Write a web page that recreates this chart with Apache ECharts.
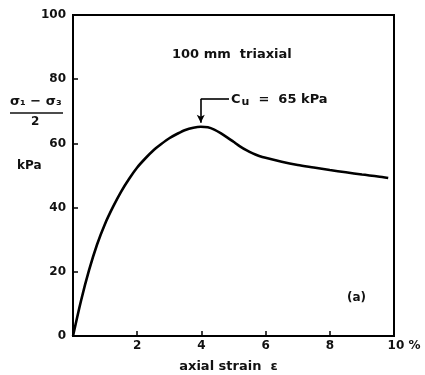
<!DOCTYPE html>
<html>
<head>
<meta charset="utf-8">
<script src="https://cdn.jsdelivr.net/npm/echarts@6/dist/echarts.min.js"></script>
<style>html,body{margin:0;padding:0;background:#fff}#c{width:425px;height:375px}</style>
</head>
<body>
<div id="c"></div>
<script>
const strain = [0, 0.25, 0.5, 0.75, 1.0, 1.25, 1.5, 1.75, 2.0, 2.25, 2.5, 2.75, 3.0, 3.25, 3.5, 3.75, 3.98, 4.2, 4.4, 4.6, 4.8, 5.0, 5.2, 5.4, 5.6, 5.8, 6.0, 6.5, 7.0, 7.5, 8.0, 8.5, 9.0, 9.5, 9.82];
const stress = [0, 11, 20.5, 28.5, 35, 40.3, 45, 49, 52.5, 55.3, 57.8, 59.8, 61.6, 63.0, 64.2, 64.9, 65.2, 65.0, 64.3, 63.2, 61.9, 60.5, 59.1, 57.9, 56.9, 56.1, 55.5, 54.3, 53.3, 52.5, 51.7, 51.0, 50.3, 49.7, 49.2];
const xTicks = [0, 2, 4, 6, 8, 10];
const yTicks = [0, 20, 40, 60, 80, 100];

const FONT = 'DejaVu Sans';
const chart = echarts.init(document.getElementById('c'), null, {renderer: 'canvas'});
chart.setOption({
  animation: false,
  backgroundColor: '#fff',
  grid: {left: 73, right: 31, top: 15, bottom: 39, outerBoundsMode: 'none', containLabel: false, show: true, borderColor: '#000', borderWidth: 2, backgroundColor: 'transparent'},
  xAxis: {
    type: 'value', min: xTicks[0], max: xTicks[xTicks.length - 1], interval: 2,
    axisLine: {lineStyle: {color: '#000', width: 2}},
    axisTick: {inside: true, length: 5, lineStyle: {color: '#000', width: 1.5}},
    splitLine: {show: false},
    axisLabel: {
      color: '#111', fontFamily: FONT, fontSize: 12, fontWeight: 'bold', margin: 4,
      formatter: v => v === 0 ? '' : (v === 10 ? '{r|10 %}' : String(v)),
      rich: {r: {fontFamily: FONT, fontSize: 12, fontWeight: 'bold', color: '#111', padding: [0, 0, 0, 20]}}
    },
    name: 'axial strain  ε', nameLocation: 'middle', nameGap: 24,
    nameTextStyle: {color: '#111', fontFamily: FONT, fontSize: 13, fontWeight: 'bold', padding: [0, 10, 0, 0]}
  },
  yAxis: {
    type: 'value', min: yTicks[0], max: yTicks[yTicks.length - 1], interval: 20,
    axisLine: {show: true, lineStyle: {color: '#000', width: 2}},
    axisTick: {show: true, inside: true, length: 5, lineStyle: {color: '#000', width: 1.5}},
    splitLine: {show: false},
    axisLabel: {color: '#111', fontFamily: FONT, fontSize: 12, fontWeight: 'bold', margin: 7}
  },
  series: [{
    type: 'line',
    data: strain.map((x, i) => [x, stress[i]]),
    smooth: 0.3,
    showSymbol: false,
    lineStyle: {color: '#000', width: 2.6},
    markLine: {
      silent: true,
      symbol: ['none', 'none'],
      lineStyle: {color: '#000', width: 1.6, type: 'solid'},
      label: {show: false},
      data: [
        [{coord: [4.86, 73.8], symbol: 'none'}, {coord: [3.98, 73.8], symbol: 'none'}],
        [{coord: [3.98, 73.8], symbol: 'none'}, {coord: [3.98, 66.4], symbol: 'arrow', symbolSize: [6, 8]}]
      ]
    }
  }],
  graphic: [
    {type: 'text', left: 10, top: 95, style: {text: 'σ₁ − σ₃', font: 'bold 13px ' + FONT, fill: '#111'}},
    {type: 'line', shape: {x1: 10, y1: 113, x2: 63, y2: 113}, style: {stroke: '#111', lineWidth: 1.3}},
    {type: 'text', left: 31, top: 116, style: {text: '2', font: 'bold 12px ' + FONT, fill: '#111'}},
    {type: 'text', left: 17, top: 160, style: {text: 'kPa', font: 'bold 12px ' + FONT, fill: '#111'}},
    {type: 'text', left: 172, top: 48, style: {text: '100 mm  triaxial', font: 'bold 13px ' + FONT, fill: '#111'}},
    {type: 'text', left: 231, top: 93, style: {
      text: '{c|C}{s|u}{c|  =  65 kPa}',
      rich: {c: {font: 'bold 13px ' + FONT, fill: '#111'}, s: {font: 'bold 11px ' + FONT, fill: '#111', padding: [6, 0, 0, 1]}}
    }},
    {type: 'text', left: 347, top: 292, style: {text: '(a)', font: 'bold 12px ' + FONT, fill: '#111'}}
  ]
});
</script>
</body>
</html>
